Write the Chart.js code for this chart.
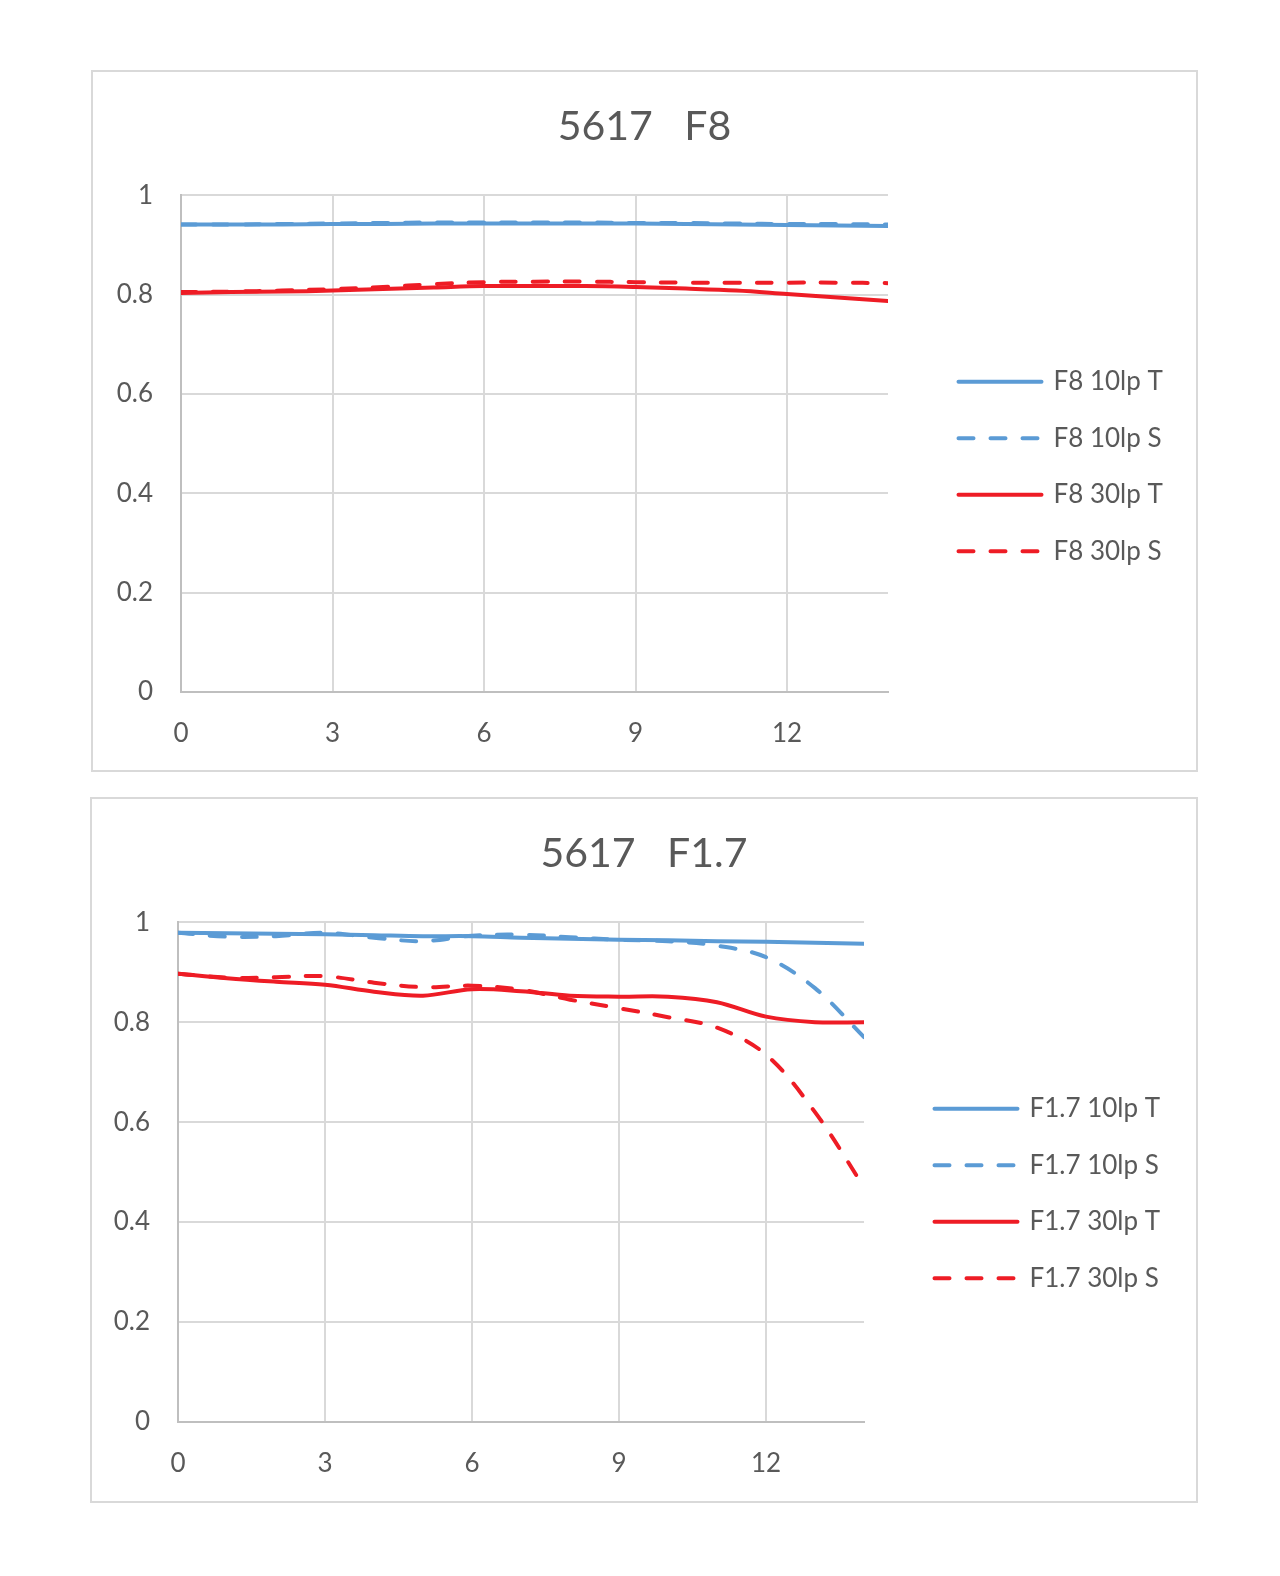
<!DOCTYPE html>
<html>
<head>
<meta charset="utf-8">
<script src="https://cdn.jsdelivr.net/npm/chart.js@4.4.1/dist/chart.umd.min.js"></script>
<style>
  html, body { margin: 0; padding: 0; background: #fff; }
  body { width: 1280px; height: 1576px; position: relative; }
  .frame { position: absolute; border: 2px solid #d9d9d9; box-sizing: border-box; background: #fff; }
  .frame canvas { position: absolute; left: 0; top: 0; }
</style>
</head>
<body>
<div class="frame" style="left:91px;top:70px;width:1107px;height:702px"><canvas id="c1" width="1103" height="698"></canvas></div>
<div class="frame" style="left:90px;top:797px;width:1108px;height:706px"><canvas id="c2" width="1104" height="702"></canvas></div>
<script>
// field position (x) 0..14
const fieldPos = [0, 1, 2, 3, 4, 5, 6, 7, 8, 9, 10, 11, 12, 13, 14];
const xTicks = [0, 3, 6, 9, 12];
const yTicks = [0, 0.2, 0.4, 0.6, 0.8, 1];

// 5617 F8
const f8Labels = ["F8 10lp T", "F8 10lp S", "F8 30lp T", "F8 30lp S"];
const f8T10 = [0.941, 0.941, 0.941, 0.942, 0.942, 0.943, 0.943, 0.943, 0.943, 0.943, 0.942, 0.941, 0.940, 0.939, 0.938];
const f8S10 = [0.941, 0.941, 0.942, 0.943, 0.944, 0.945, 0.945, 0.945, 0.945, 0.944, 0.944, 0.943, 0.942, 0.942, 0.941];
const f8T30 = [0.803, 0.805, 0.806, 0.808, 0.811, 0.814, 0.817, 0.817, 0.817, 0.815, 0.812, 0.808, 0.801, 0.794, 0.787];
const f8S30 = [0.805, 0.806, 0.808, 0.811, 0.815, 0.821, 0.825, 0.826, 0.826, 0.825, 0.824, 0.824, 0.824, 0.824, 0.823];

// 5617 F1.7
const f17Labels = ["F1.7 10lp T", "F1.7 10lp S", "F1.7 30lp T", "F1.7 30lp S"];
const f17T10 = [0.979, 0.978, 0.977, 0.976, 0.974, 0.972, 0.972, 0.969, 0.967, 0.965, 0.964, 0.962, 0.961, 0.959, 0.957];
const f17S10 = [0.979, 0.971, 0.972, 0.979, 0.969, 0.962, 0.973, 0.975, 0.970, 0.965, 0.962, 0.953, 0.930, 0.868, 0.770];
const f17T30 = [0.897, 0.888, 0.881, 0.875, 0.861, 0.853, 0.866, 0.862, 0.853, 0.851, 0.851, 0.840, 0.811, 0.800, 0.800];
const f17S30 = [0.897, 0.889, 0.890, 0.892, 0.879, 0.870, 0.873, 0.865, 0.845, 0.828, 0.810, 0.789, 0.735, 0.620, 0.470];

const BLUE = "#5b9bd5";
const RED = "#ee1c25";
const TEXT = "#595959";
const FONT = "Lato, 'Open Sans', sans-serif";

Chart.defaults.font.family = FONT;
Chart.defaults.color = TEXT;

// legend on the right, drawn next to the plot area
const sideLegend = {
  id: "sideLegend",
  afterDraw(chart, args, opts) {
    const ctx = chart.ctx;
    const area = chart.chartArea;
    const x0 = area.right + opts.dx;
    ctx.save();
    chart.data.datasets.forEach((ds, i) => {
      const y = area.top + opts.dy + i * opts.step;
      ctx.beginPath();
      ctx.strokeStyle = ds.borderColor;
      ctx.lineWidth = ds.borderWidth;
      ctx.lineCap = "round";
      ctx.setLineDash(ds.borderDash);
      ctx.moveTo(x0 + 2, y);
      ctx.lineTo(x0 + opts.lineW - 2, y);
      ctx.stroke();
      ctx.setLineDash([]);
      ctx.fillStyle = TEXT;
      ctx.font = opts.fontSize + "px " + FONT;
      ctx.textAlign = "left";
      ctx.textBaseline = "middle";
      ctx.fillText(ds.label, x0 + opts.lineW + opts.gap, y);
    });
    ctx.restore();
  }
};

const toPoints = (vals) => fieldPos.map((x, i) => ({ x: x, y: vals[i] }));

const makeSet = (label, vals, color, dashed) => ({
  label: label,
  data: toPoints(vals),
  borderColor: color,
  backgroundColor: color,
  borderWidth: 4,
  borderDash: dashed ? [15, 17] : [],
  borderCapStyle: "round",
  pointRadius: 0,
  tension: 0.35,
  fill: false,
  yAxisID: "y"
});

const makeChart = (id, title, labels, series, leftW, bottomH, rightW) => {
  const colors = [BLUE, BLUE, RED, RED];
  const ctx = document.getElementById(id).getContext("2d");
  return new Chart(ctx, {
    type: "line",
    data: {
      datasets: series.map((s, i) => makeSet(labels[i], s, colors[i], i % 2 == 1))
    },
    plugins: [sideLegend],
    options: {
      responsive: false,
      animation: false,
      devicePixelRatio: 1,
      layout: { padding: 0 },
      plugins: {
        title: {
          display: true,
          text: title,
          color: TEXT,
          font: { size: 41, weight: "normal" },
          padding: { top: 30, bottom: 44 }
        },
        legend: { display: false },
        tooltip: { enabled: false },
        sideLegend: { dx: 68.5, dy: 186.5, step: 56.5, lineW: 87, gap: 10, fontSize: 26 }
      },
      scales: {
        x: {
          type: "linear",
          min: 0,
          max: 14,
          afterFit: (s) => { s.height = bottomH; },
          afterBuildTicks: (s) => { s.ticks = xTicks.map((v) => ({ value: v })); },
          ticks: { padding: 26, color: TEXT, font: { size: 26 }, maxRotation: 0 },
          grid: { color: "#d9d9d9", lineWidth: 2, drawTicks: false },
          border: { color: "#bfbfbf", width: 2 }
        },
        y: {
          min: 0,
          max: 1,
          afterFit: (s) => { s.width = leftW; },
          afterBuildTicks: (s) => { s.ticks = yTicks.map((v) => ({ value: v })); },
          ticks: { padding: 28, color: TEXT, font: { size: 26 }, callback: (v) => String(v) },
          grid: { color: "#d9d9d9", lineWidth: 2, drawTicks: false },
          border: { color: "#bfbfbf", width: 2 }
        },
        gap: {
          position: "right",
          afterFit: (s) => { s.width = rightW; },
          ticks: { display: false },
          grid: { display: false },
          border: { display: false }
        }
      }
    }
  });
};

makeChart("c1", "5617   F8", f8Labels, [f8T10, f8S10, f8T30, f8S30], 88, 78, 308);
makeChart("c2", "5617   F1.7", f17Labels, [f17T10, f17S10, f17T30, f17S30], 86, 79, 332);
</script>
</body>
</html>
